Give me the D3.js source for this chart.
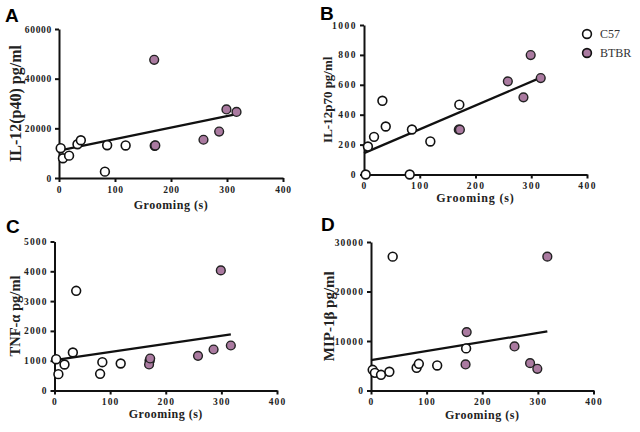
<!DOCTYPE html>
<html>
<head>
<meta charset="utf-8">
<script src="https://cdn.jsdelivr.net/npm/d3@7"></script>
<style>
  body { margin: 0; background: #fff; }
  svg { display: block; }
  .axis path, .axis line { stroke: #111; stroke-width: 2; }
</style>
</head>
<body>
<div class="container"></div>
<script>
const w = 640;
const h = 432;
const serif = '"Liberation Serif", "Times New Roman", serif';

const groomingC57 = [3, 7, 18, 33, 39, 82, 86, 119, 171];
const groomingBTBR = [170, 172, 258, 286, 299, 317];
const fitX = [0, 317];
const xTicks = [0, 100, 200, 300, 400];

const il12p40C57 = [12000, 7950, 9000, 13600, 15200, 2560, 13200, 13100, 13000];
const il12p40BTBR = [47600, 13100, 15400, 18700, 27600, 26600];
const il12p40Fit = [11000, 25700];
const il12p40Ticks = [0, 20000, 40000, 60000];

const il12p70C57 = [0, 187, 252, 493, 321, 0, 301, 221, 467];
const il12p70BTBR = [300, 300, 623, 516, 799, 645];
const il12p70Fit = [143, 648];
const il12p70Ticks = [0, 200, 400, 600, 800, 1000];

const tnfC57 = [1050, 548, 872, 1275, 3345, 560, 950, 906, 1000];
const tnfBTBR = [872, 1074, 1163, 1376, 4030, 1510];
const tnfFit = [1018, 1885];
const tnfTicks = [0, 1000, 2000, 3000, 4000, 5000];

const mipC57 = [4180, 3570, 3170, 3780, 27040, 4590, 5390, 5060, 8500];
const mipBTBR = [5260, 11800, 8900, 5530, 4380, 27040];
const mipFit = [6140, 11950];
const mipTicks = [0, 10000, 20000, 30000];

const groups = ["C57", "BTBR"];
const pink = "#aa7aa0";

const panels = [
  { letter: "A", label: "IL-12(p40) pg/ml", c57: il12p40C57, btbr: il12p40BTBR, fit: il12p40Fit, ticks: il12p40Ticks,
    x0: 59, x1: 283, y0: 178, y1: 29, lx: 5, ly: 22, labX: 15, labSize: 16, tickLs: 0.7, grY: 31, grLs: 0.35 },
  { letter: "B", label: "IL-12p70 pg/ml", c57: il12p70C57, btbr: il12p70BTBR, fit: il12p70Fit, ticks: il12p70Ticks,
    x0: 364, x1: 587, y0: 174.5, y1: 25, lx: 320, ly: 20, labX: 327, labSize: 13, tickLs: 1.5, grY: 27.5, grLs: 0.65 },
  { letter: "C", label: "TNF-α pg/ml", c57: tnfC57, btbr: tnfBTBR, fit: tnfFit, ticks: tnfTicks,
    x0: 54.5, x1: 277, y0: 390.5, y1: 241.5, lx: 6, ly: 233, labX: 15, labSize: 14.5, tickLs: 1.1, grY: 27, grLs: 0.3 },
  { letter: "D", label: "MIP-1β pg/ml", c57: mipC57, btbr: mipBTBR, fit: mipFit, ticks: mipTicks,
    x0: 371, x1: 593.5, y0: 390.5, y1: 242, lx: 321, ly: 231, labX: 329, labSize: 15, tickLs: 1.1, grY: 28, grLs: 0.35 }
];

const svg = d3.select('.container').append('svg')
    .attr('width', w)
    .attr('height', h);

function styleTicks(sel, p) {
  sel.attr('font-family', null).attr('font-size', null);
  sel.selectAll('text')
      .style('font-family', serif)
      .style('font-weight', 'bold')
      .style('font-size', '9.5px')
      .style('letter-spacing', p.tickLs + 'px')
      .style('fill', '#222');
}

panels.forEach(p => {
  const x = d3.scaleLinear().domain([0, 400]).range([p.x0, p.x1]);
  const y = d3.scaleLinear().domain([0, d3.max(p.ticks)]).range([p.y0, p.y1]);
  const g = svg.append('g');

  g.append('g')
      .classed('axis', true)
      .attr('transform', `translate(0,${p.y0})`)
      .call(d3.axisBottom(x).tickValues(xTicks).tickSize(4).tickSizeOuter(0).tickPadding(4).tickFormat(d3.format('d')))
      .call(styleTicks, p);

  g.append('g')
      .classed('axis', true)
      .attr('transform', `translate(${p.x0},0)`)
      .call(d3.axisLeft(y).tickValues(p.ticks).tickSize(4).tickSizeOuter(0).tickPadding(3).tickFormat(d3.format('d')))
      .call(styleTicks, p);

  g.append('text')
      .attr('x', (p.x0 + p.x1) / 2)
      .attr('y', p.y0 + p.grY)
      .attr('text-anchor', 'middle')
      .style('font-family', serif)
      .style('font-weight', 'bold')
      .style('font-size', '12px')
      .style('letter-spacing', (p.grLs + 0.2) + 'px')
      .style('fill', '#222')
      .text('Grooming (s)');

  g.append('text')
      .attr('transform', `translate(${p.labX},${(p.y0 + p.y1) / 2}) rotate(-90)`)
      .attr('text-anchor', 'middle')
      .attr('dy', '0.35em')
      .style('font-family', serif)
      .style('font-weight', 'bold')
      .style('font-size', p.labSize + 'px')
      .style('fill', '#222')
      .text(p.label);

  g.append('text')
      .attr('x', p.lx)
      .attr('y', p.ly)
      .style('font-family', '"Liberation Sans", Arial, sans-serif')
      .style('font-weight', 'bold')
      .style('font-size', '19px')
      .style('fill', '#000')
      .text(p.letter);

  g.append('line')
      .attr('x1', x(fitX[0]))
      .attr('y1', y(p.fit[0]))
      .attr('x2', x(fitX[1]))
      .attr('y2', y(p.fit[1]))
      .attr('stroke', '#111')
      .attr('stroke-width', 2.2);

  g.append('g').selectAll('circle')
      .data(groomingC57.map((d, i) => [d, p.c57[i]]))
      .enter().append('circle')
        .attr('cx', d => x(d[0]))
        .attr('cy', d => y(d[1]))
        .attr('r', 4.4)
        .attr('fill', '#fff')
        .attr('stroke', '#111')
        .attr('stroke-width', 1.6);

  g.append('g').selectAll('circle')
      .data(groomingBTBR.map((d, i) => [d, p.btbr[i]]))
      .enter().append('circle')
        .attr('cx', d => x(d[0]))
        .attr('cy', d => y(d[1]))
        .attr('r', 4.4)
        .attr('fill', pink)
        .attr('stroke', '#222')
        .attr('stroke-width', 1.4);
});

const legend = svg.append('g')
    .attr('transform', 'translate(587,34)');

legend.selectAll('circle')
    .data(groups)
    .enter().append('circle')
      .attr('cx', 0)
      .attr('cy', (d, i) => i * 19)
      .attr('r', 4.4)
      .attr('fill', d => d === 'C57' ? '#fff' : pink)
      .attr('stroke', '#111')
      .attr('stroke-width', 1.6);

legend.selectAll('text')
    .data(groups)
    .enter().append('text')
      .attr('x', 13)
      .attr('y', (d, i) => i * 19)
      .attr('dy', '0.35em')
      .style('font-family', serif)
      .style('font-size', '12px')
      .style('fill', '#333')
      .text(d => d);
</script>
</body>
</html>
